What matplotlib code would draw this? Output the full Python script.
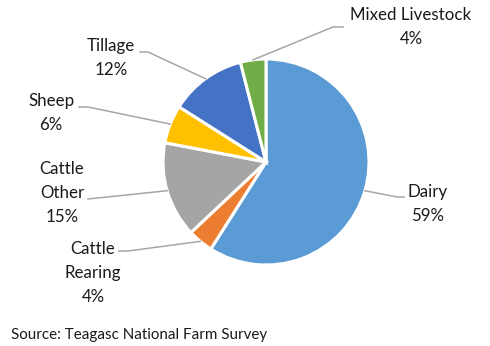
import numpy as np
import matplotlib.pyplot as plt

plt.rcParams['font.family'] = ['Lato', 'DejaVu Sans']

categories = ['Dairy', 'Cattle\nRearing', 'Cattle\nOther', 'Sheep', 'Tillage', 'Mixed Livestock']
shares = [59, 4, 15, 6, 12, 4]
colors = ['#5B9BD5', '#ED7D31', '#A5A5A5', '#FFC000', '#4472C4', '#70AD47']

# label layout in pixel coords (y from top): text centre, elbow point
label_pos = [(428, 204), (93, 273), (62, 193), (51, 113), (111, 58), (411, 27)]
elbow_pos = [(397, 197), (128, 251), (88, 199), (88, 107), (148, 52), (333, 27)]
text_edge = [(404, 197), (119, 251), (88, 199), (79, 107), (140, 52), (343, 27)]

W, H = 490, 346
cx, cy, r = 266, 162, 103

fig = plt.figure(figsize=(4.9, 3.46), dpi=100)
ax = fig.add_axes([0, 0, 1, 1])

ax.pie(shares, colors=colors, startangle=90, counterclock=False,
       center=(cx, H - cy), radius=r, frame=True,
       wedgeprops=dict(edgecolor='white', linewidth=2.2))
ax.set_xlim(0, W)
ax.set_ylim(0, H)
ax.set_aspect('equal')
ax.axis('off')

total = float(sum(shares))
cum = np.cumsum([0] + shares)
for i, (cat, val) in enumerate(zip(categories, shares)):
    mid = 90 - (cum[i] + val / 2) / total * 360
    px = cx + r * np.cos(np.radians(mid))
    py = cy - r * np.sin(np.radians(mid))
    tx, ty = text_edge[i]
    ex, ey = elbow_pos[i]
    ax.plot([tx, ex, px], [H - ty, H - ey, H - py], color='#A6A6A6', lw=1.1)
    lx, ly = label_pos[i]
    ax.text(lx, H - ly, '%s\n%d%%' % (cat, val), ha='center', va='center',
            fontsize=12.2, color='#1a1a1a', linespacing=1.6)

ax.text(11, H - 335, 'Source: Teagasc National Farm Survey', ha='left', va='center',
        fontsize=10.9, color='#1a1a1a')

fig.savefig('out.png', dpi=100)
